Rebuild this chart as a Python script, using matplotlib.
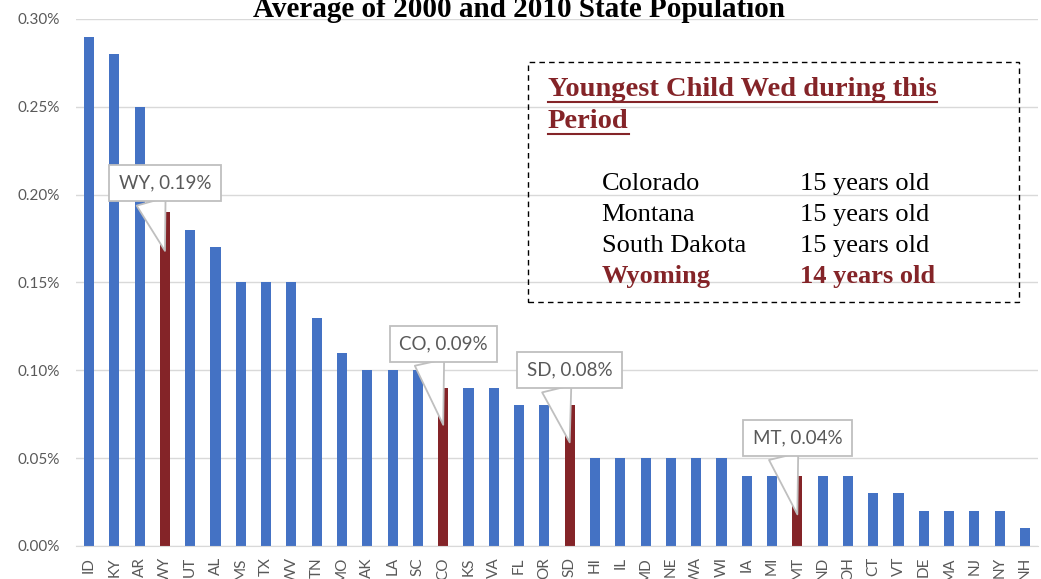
import matplotlib
matplotlib.use("Agg")
import matplotlib.pyplot as plt
from matplotlib.patches import Rectangle
from matplotlib.lines import Line2D
from matplotlib.ticker import FuncFormatter

states = ['ID', 'KY', 'AR', 'WY', 'UT', 'AL', 'MS', 'TX', 'WV', 'TN', 'MO', 'AK', 'LA', 'SC',
          'CO', 'KS', 'VA', 'FL', 'OR', 'SD', 'HI', 'IL', 'MD', 'NE', 'WA', 'WI', 'IA', 'MI',
          'MT', 'ND', 'OH', 'CT', 'VT', 'DE', 'MA', 'NJ', 'NY', 'NH']
values = [0.29, 0.28, 0.25, 0.19, 0.18, 0.17, 0.15, 0.15, 0.15, 0.13, 0.11, 0.10, 0.10, 0.10,
          0.09, 0.09, 0.09, 0.08, 0.08, 0.08, 0.05, 0.05, 0.05, 0.05, 0.05, 0.05, 0.04, 0.04,
          0.04, 0.04, 0.04, 0.03, 0.03, 0.02, 0.02, 0.02, 0.02, 0.01]
highlight = ['WY', 'CO', 'SD', 'MT']

# callout placement: (state, box centre value, pointer tip value)
callouts = [('WY', 0.2066, 0.168), ('CO', 0.115, 0.069), ('SD', 0.100, 0.059), ('MT', 0.0615, 0.018)]

box_title = ['Youngest Child Wed during this', 'Period']
box_states = ['Colorado', 'Montana', 'South Dakota', 'Wyoming']
box_ages = ['15 years old', '15 years old', '15 years old', '14 years old']

blue = '#4472C4'
red = '#842428'
gray = '#595959'

fig = plt.figure(figsize=(10.41, 5.79), dpi=100)
ax = fig.add_axes([0.0734, 0.0570, 0.9234, 0.9102])

colors = [red if s in highlight else blue for s in states]
x = list(range(len(states)))
ax.bar(x, values, width=0.4, color=colors, zorder=2)

ax.set_xlim(-0.5, len(states) - 0.5)
ax.set_ylim(0, 0.30)
ax.set_yticks([0, 0.05, 0.10, 0.15, 0.20, 0.25, 0.30])
ax.yaxis.set_major_formatter(FuncFormatter(lambda v, p: f'{v:.2f}%'))
ax.set_xticks(x)
ax.set_xticklabels(states, rotation=90)
ax.tick_params(axis='both', length=0, labelsize=11, labelcolor=gray, labelfontfamily='Lato')
ax.tick_params(axis='y', pad=12)
ax.tick_params(axis='x', pad=8)
ax.grid(axis='y', color='#d9d9d9', linewidth=1, zorder=0)
ax.set_axisbelow(True)
for side in ['left', 'right', 'top']:
    ax.spines[side].set_visible(False)
ax.spines['bottom'].set_color('#d9d9d9')

for st, ybox, ytip in callouts:
    i = states.index(st)
    ax.annotate(f'{st}, {values[i]:.2f}%', xy=(i, ytip), xytext=(i, ybox),
                ha='center', va='center', fontsize=13.5, color=gray, family='Lato',
                bbox=dict(boxstyle='square,pad=0.5', fc='white', ec='#bfbfbf', lw=1.3),
                arrowprops=dict(arrowstyle='wedge,tail_width=1.6', fc='white', ec='#bfbfbf',
                                lw=1.3, shrinkA=0, shrinkB=0, relpos=(0.32, 0.0)),
                zorder=5)

fig.text(0.499, 0.9706, 'Average of 2000 and 2010 State Population', ha='center', va='baseline',
         fontsize=21, fontweight='bold', family='Liberation Serif')

fig.patches.append(Rectangle((0.507, 0.478), 0.472, 0.4145, transform=fig.transFigure,
                             fill=False, ec='black', ls=(0, (4, 3)), lw=1))

title_objs = []
for k, line in enumerate(box_title):
    t = fig.text(0.5264, 0.8446 - k * 0.0553, line, ha='left', va='center', fontsize=20.5,
                 fontweight='bold', color=red, family='Liberation Serif')
    title_objs.append(t)

for k in range(len(box_states)):
    yk = 0.682 - k * 0.0531
    last = k == len(box_states) - 1
    fig.text(0.578, yk, box_states[k], ha='left', va='center', fontsize=19,
             color=red if last else 'black', fontweight='bold' if last else 'normal',
             family='Liberation Serif')
    fig.text(0.7685, yk, box_ages[k], ha='left', va='center', fontsize=19,
             color=red if last else 'black', fontweight='bold' if last else 'normal',
             family='Liberation Serif')

# underline the box title
renderer = fig.canvas.get_renderer()
for t, yline in zip(title_objs, [0.8238, 0.7686]):
    bb = t.get_window_extent(renderer).transformed(fig.transFigure.inverted())
    fig.lines.append(Line2D([bb.x0, bb.x1], [yline, yline], transform=fig.transFigure,
                            color=red, lw=1.5))

fig.savefig('out.png', dpi=100)
